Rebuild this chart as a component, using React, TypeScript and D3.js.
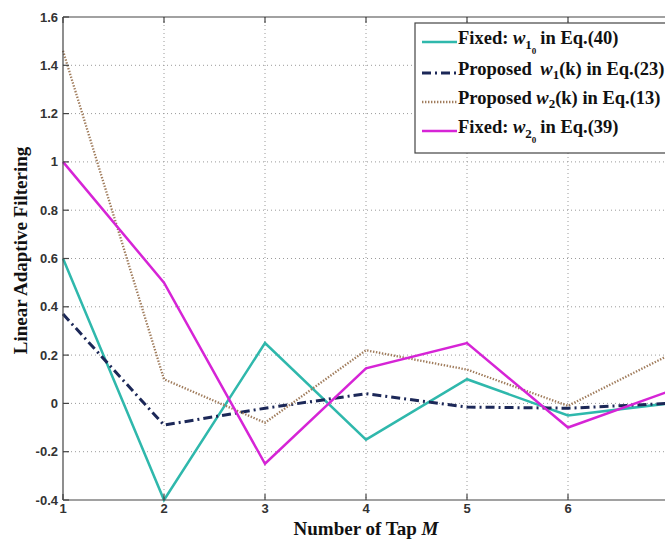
import React from 'react';
import * as d3 from 'd3';

const taps = [1, 2, 3, 4, 5, 6, 7];
const fixedW1 = [0.6, -0.4, 0.25, -0.15, 0.1, -0.05, 0.0];
const proposedW1 = [0.37, -0.09, -0.02, 0.04, -0.015, -0.02, 0.0];
const proposedW2 = [1.46, 0.1, -0.08, 0.22, 0.14, -0.01, 0.2];
const fixedW2 = [1.0, 0.5, -0.25, 0.145, 0.25, -0.1, 0.05];
const xTicks = [1, 2, 3, 4, 5, 6, 7];
const yTicks = [-0.4, -0.2, 0, 0.2, 0.4, 0.6, 0.8, 1, 1.2, 1.4, 1.6];

const W = 665;
const H = 539;
const plot = { left: 63, right: 669, top: 17, bottom: 500 };

const series = [
  { name: 'fixedW1', values: fixedW1, color: '#2fb8ac', width: 2.5, dash: null },
  { name: 'proposedW1', values: proposedW1, color: '#1c2858', width: 3, dash: '9,4,2,4' },
  { name: 'proposedW2', values: proposedW2, color: '#a07c5c', width: 2.3, dash: '1.4,1.6' },
  { name: 'fixedW2', values: fixedW2, color: '#d624d6', width: 2.5, dash: null },
];

const serif = '"Liberation Serif", "DejaVu Serif", serif';
const tickFont = '"Liberation Sans Narrow", "Liberation Sans", Arial, sans-serif';

const App: React.FC = () => {
  const x = d3.scaleLinear().domain([1, 7]).range([plot.left, plot.right]);
  const y = d3.scaleLinear().domain([-0.4, 1.6]).range([plot.bottom, plot.top]);

  const line = d3.line<number>()
    .x((_, i) => x(taps[i]))
    .y(d => y(d));

  // legend rows
  const lgX = 415;
  const lgY = 23;
  const rowY = [38, 69, 98, 127];
  const sample = (i: number) => {
    const s = series[i];
    return (
      <line key={'lg' + i} x1={lgX + 7} x2={lgX + 42} y1={rowY[i] + 4} y2={rowY[i] + 4}
        stroke={s.color} strokeWidth={s.width} strokeDasharray={s.dash || undefined} />
    );
  };

  return (
    <svg width={W} height={H} style={{ position: 'absolute', left: 0, top: 0, background: '#fff' }}>
      <rect x={0} y={0} width={W} height={H} fill="#fff" />

      {/* grid */}
      <g stroke="#9a9a9a" strokeWidth={1} strokeDasharray="1,3">
        {xTicks.slice(1).map(t => (
          <line key={'gx' + t} x1={x(t)} x2={x(t)} y1={plot.top} y2={plot.bottom} />
        ))}
        {yTicks.slice(1, -1).map(t => (
          <line key={'gy' + t} x1={plot.left} x2={plot.right} y1={y(t)} y2={y(t)} />
        ))}
      </g>

      {/* data lines */}
      {series.map(s => (
        <path key={s.name} d={line(s.values) || ''} fill="none" stroke={s.color}
          strokeWidth={s.width} strokeDasharray={s.dash || undefined}
          strokeLinejoin="miter" />
      ))}

      {/* frame */}
      <g stroke="#444" strokeWidth={1.2} fill="none">
        <line x1={plot.left} x2={plot.left} y1={plot.top} y2={plot.bottom} />
        <line x1={plot.left} x2={plot.right} y1={plot.bottom} y2={plot.bottom} />
        <line x1={plot.left} x2={plot.right} y1={plot.top} y2={plot.top} />
        {xTicks.map(t => (
          <g key={'tx' + t}>
            <line x1={x(t)} x2={x(t)} y1={plot.bottom} y2={plot.bottom - 6} />
            <line x1={x(t)} x2={x(t)} y1={plot.top} y2={plot.top + 6} />
          </g>
        ))}
        {yTicks.map(t => (
          <line key={'ty' + t} x1={plot.left} x2={plot.left + 6} y1={y(t)} y2={y(t)} />
        ))}
      </g>

      {/* tick labels */}
      <g fontFamily={tickFont} fontWeight="bold" fontSize={13} fill="#333">
        {yTicks.map(t => (
          <text key={'ly' + t} x={plot.left - 5} y={y(t)} dy="0.35em" textAnchor="end">
            {d3.format('~g')(t).replace('\u2212', '-')}
          </text>
        ))}
        {xTicks.slice(0, 6).map(t => (
          <text key={'lx' + t} x={x(t)} y={plot.bottom + 13} textAnchor="middle">{t}</text>
        ))}
      </g>

      {/* axis titles */}
      <text x={(plot.left + plot.right) / 2} y={535} textAnchor="middle"
        fontFamily={serif} fontWeight="bold" fontSize={19} fill="#111">
        Number of Tap <tspan fontStyle="italic">M</tspan>
      </text>
      <text transform={`translate(27,${(plot.top + plot.bottom) / 2 - 8}) rotate(-90)`}
        textAnchor="middle" fontFamily={serif} fontWeight="bold" fontSize={19} fill="#111">
        Linear Adaptive Filtering
      </text>

      {/* legend */}
      <rect x={lgX} y={lgY} width={270} height={130} fill="#fff" stroke="#444" strokeWidth={1.2} />
      {[0, 1, 2, 3].map(sample)}
      <g fontFamily={serif} fontWeight="bold" fontSize={18.5} fill="#111">
        <text x={lgX + 43} y={rowY[0] + 6}>
          Fixed: <tspan fontStyle="italic">w</tspan>
          <tspan fontSize={13} dy={5}>1</tspan>
          <tspan fontSize={9} dy={5}>0</tspan>
          <tspan dy={-10} dx={4}>in Eq.(40)</tspan>
        </text>
        <text x={lgX + 43} y={rowY[1] + 6}>
          Proposed  <tspan dx={4} fontStyle="italic">w</tspan>
          <tspan fontSize={13} dy={4}>1</tspan>
          <tspan dy={-4}>(k) in Eq.(23)</tspan>
        </text>
        <text x={lgX + 43} y={rowY[2] + 6}>
          Proposed <tspan fontStyle="italic">w</tspan>
          <tspan fontSize={13} dy={4}>2</tspan>
          <tspan dy={-4}>(k) in Eq.(13)</tspan>
        </text>
        <text x={lgX + 43} y={rowY[3] + 6}>
          Fixed: <tspan fontStyle="italic">w</tspan>
          <tspan fontSize={13} dy={5}>2</tspan>
          <tspan fontSize={9} dy={5}>0</tspan>
          <tspan dy={-10} dx={4}>in Eq.(39)</tspan>
        </text>
      </g>
    </svg>
  );
};

export default App;
